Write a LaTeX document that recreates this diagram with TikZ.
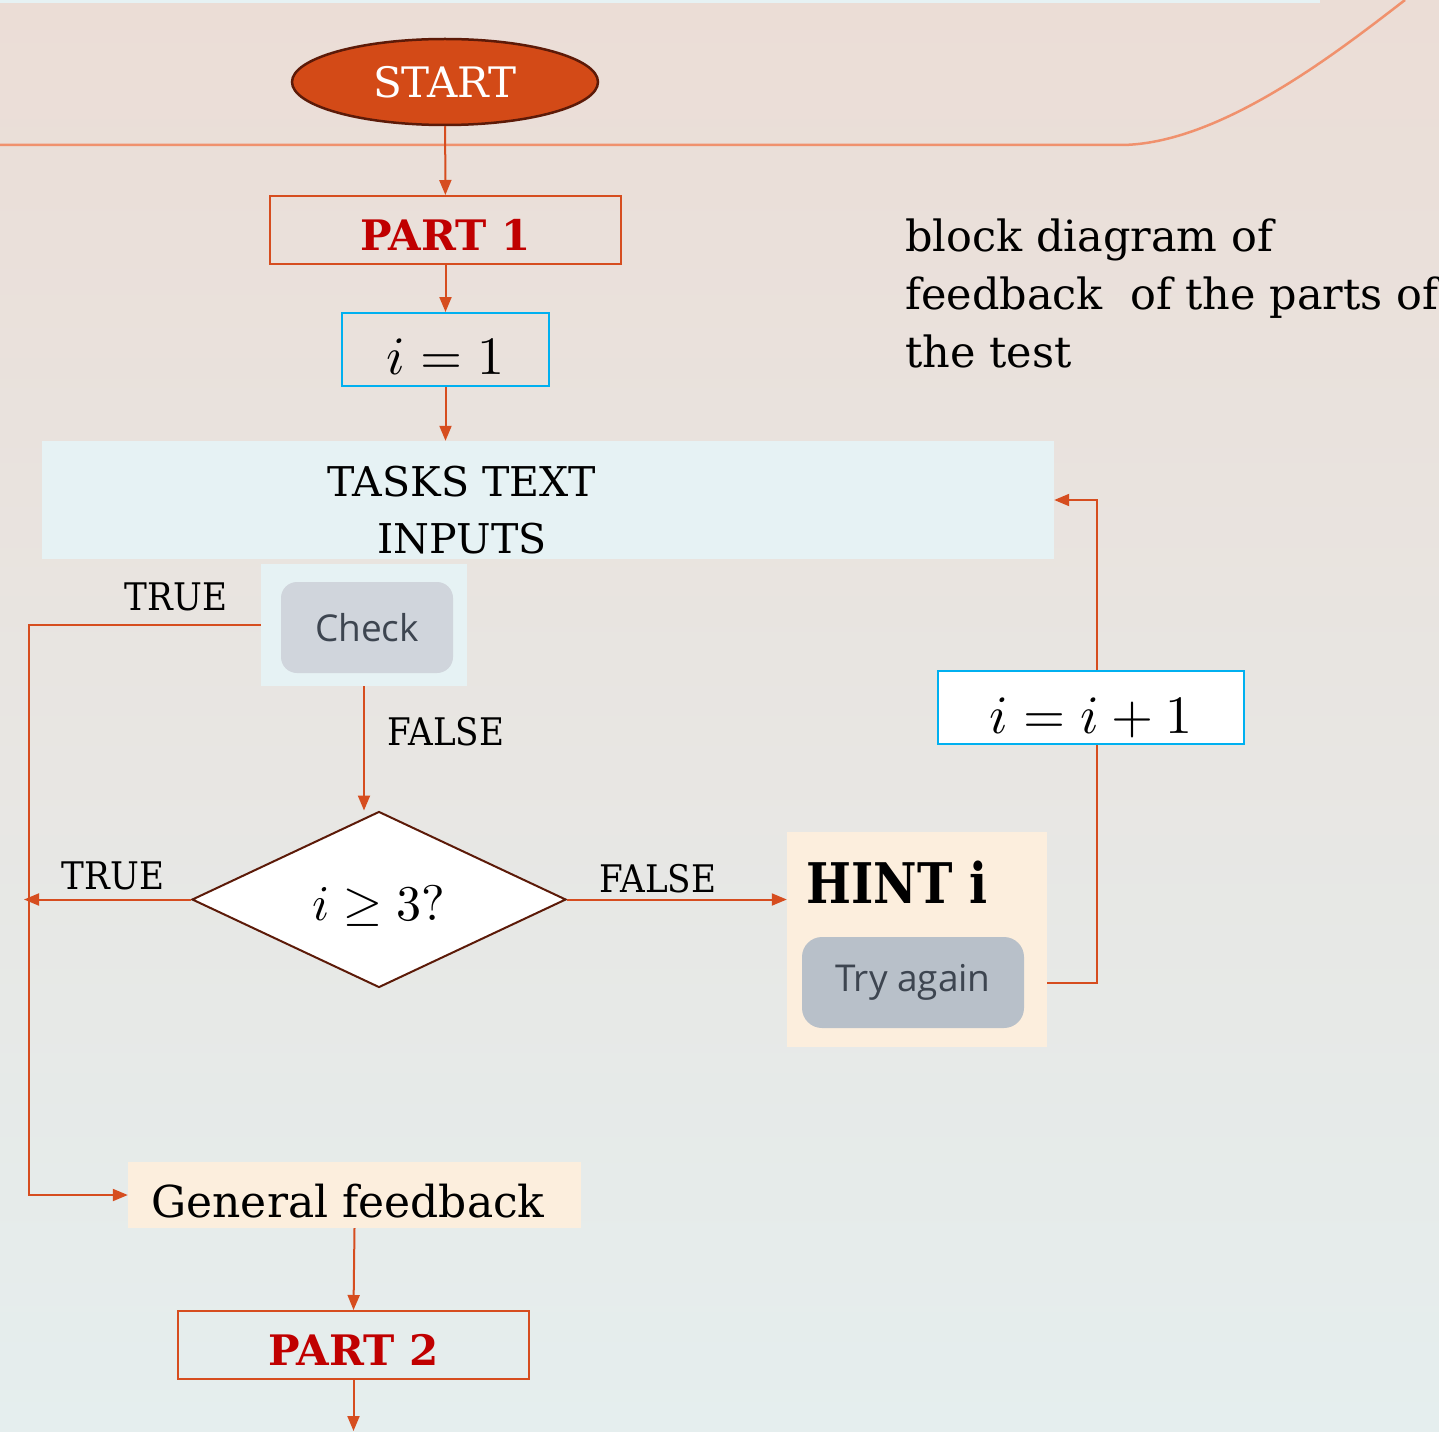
\documentclass[tikz,border=0pt]{standalone}
\usepackage{fontspec}
\usepackage{unicode-math}
\usepackage{tikz}
\usetikzlibrary{shapes.geometric}
\usetikzlibrary{arrows.meta}
\setmainfont{DejaVu Serif}
\setmathfont{Latin Modern Math}
\newfontfamily\slabfam{DejaVu Serif}
\newfontfamily\condfam[FakeStretch=0.9]{DejaVu Serif}
\newfontfamily\hintfam[FakeStretch=0.85]{DejaVu Serif}
\newfontfamily\uifam{Open Sans}
\definecolor{flowred}{RGB}{214,77,31}
\definecolor{partred}{RGB}{192,0,0}
\definecolor{boxcyan}{RGB}{0,176,240}
\definecolor{startfill}{RGB}{211,74,23}
\definecolor{darkbrown}{RGB}{92,26,8}
\definecolor{taskblue}{RGB}{230,242,244}
\definecolor{hintcream}{RGB}{252,238,221}
\definecolor{checkgray}{RGB}{208,213,220}
\definecolor{retrygray}{RGB}{184,192,201}
\definecolor{uitext}{RGB}{61,69,80}
\definecolor{curveorange}{RGB}{240,145,109}
\definecolor{bgtop}{RGB}{235,221,214}
\definecolor{bgbottom}{RGB}{229,238,238}
\tikzstyle{flowline}=[draw=flowred,line width=2pt,-{Triangle[length=15pt,width=12pt]}]
\tikzstyle{plainline}=[draw=flowred,line width=2pt]
\tikzstyle{startnode}=[ellipse,draw=darkbrown,line width=2.5pt,fill=startfill,text=white,
  minimum width=306pt,minimum height=86pt,inner sep=0pt]
\tikzstyle{partbox}=[draw=flowred,line width=2pt,minimum width=351pt,minimum height=68pt,
  inner sep=0pt,text=partred,font=\slabfam\bfseries\fontsize{42}{42}\selectfont,
  text height=41pt,text depth=0pt]
\tikzstyle{varbox}=[draw=boxcyan,line width=2pt,minimum height=73pt,inner sep=0pt,
  text depth=0pt]
\tikzstyle{panel}=[inner sep=0pt]
\tikzstyle{uibutton}=[rounded corners=16pt,inner sep=0pt,text=uitext,
  font=\uifam\fontsize{37}{37}\selectfont]
\tikzstyle{decision}=[diamond,draw=darkbrown,line width=2pt,fill=white,
  minimum width=374pt,minimum height=176pt,inner sep=0pt]
\tikzstyle{branch}=[inner sep=0pt,font=\condfam\fontsize{38}{38}\selectfont]
\newcommand{\sz}[1]{\fontsize{#1}{#1}\selectfont}

\begin{document}
\begin{tikzpicture}[x=1pt,y=-1pt]
  \useasboundingbox (0,0) rectangle (1439,1431);
  % background and title band
  \shade[top color=bgtop,bottom color=bgbottom] (0,0) rectangle (1439,1431);
  \fill[taskblue] (0,0) rectangle (1320,3);
  \draw[curveorange,line width=2.5pt] (0,145) -- (1120,145)
    .. controls (1220,145) and (1340,50) .. (1405,0);

  \node[startnode,font=\slabfam\sz{42}] (start) at (445,82) {START};
  \node[partbox] (part1) at (445.5,230) {PART 1};
  \node[varbox,minimum width=207pt,font=\sz{54},text height=50pt] (init) at (445.5,349.5) {$i = 1$};
  \node[panel,fill=taskblue,minimum width=1012pt,minimum height=118pt] (tasks) at (548,500) {};
  \node[inner sep=0pt,align=center,font=\slabfam\fontsize{41}{57}\selectfont] (taskstext) at (462,510) {TASKS TEXT\\INPUTS};
  \node[panel,fill=taskblue,minimum width=206pt,minimum height=122pt] (checkpanel) at (364,625) {};
  \node[uibutton,fill=checkgray,minimum width=172pt,minimum height=91pt] (check) at (367,627.5) {Check};
  \node[decision,font=\sz{50},text height=41pt,text depth=0pt] (cond) at (379,899.5) {$i \geq 3?$};
  \node[panel,fill=hintcream,minimum width=260pt,minimum height=215pt] (hintpanel) at (917,939.5) {};
  \node[inner sep=0pt,font=\hintfam\bfseries\sz{56}] (hint) at (897,882) {HINT i};
  \node[uibutton,fill=retrygray,rounded corners=20pt,minimum width=222pt,minimum height=91pt] (retry) at (913,982.5) {Try again};
  \node[varbox,fill=white,minimum width=306pt,font=\sz{54},text height=52pt] (incr) at (1091,707.5) {$i = i + 1$};
  \node[panel,fill=hintcream,minimum width=453pt,minimum height=66pt] (general) at (354.5,1195) {};
  \node[inner sep=0pt,font=\slabfam\sz{44}] (generaltext) at (348,1201) {General feedback};
  \node[partbox] (part2) at (353.5,1345) {PART 2};
  \node[inner sep=0pt,anchor=north west,align=left,font=\slabfam\fontsize{43}{58}\selectfont] (note) at (905,219)
    {block diagram of\\feedback\ \ of the parts of\\the test};

  \node[branch] (check true) at (176,597) {TRUE};
  \node[branch] (check false) at (446,732) {FALSE};
  \node[branch] (cond true) at (113,876) {TRUE};
  \node[branch] (cond false) at (658,879) {FALSE};

  \coordinate (rail) at (29,900);
  \coordinate (loop) at (1097,500);
  \coordinate (exit) at (353.5,1431);

  \draw[flowline] (start) -- (part1);
  \draw[flowline] (part1) -- (init);
  \draw[flowline] (init) -- (tasks.north -| init);
  \draw[flowline] (checkpanel.west) -| (rail) |- (general.west);
  \draw[flowline] (checkpanel.south) -- (checkpanel.south |- cond.north);
  \draw[flowline] (cond.west) -- ([xshift=-5pt]rail |- cond.west);
  \draw[flowline] (cond.east) -- (hintpanel.west |- cond.east);
  \draw[plainline] (hintpanel.east |- retry) -| (loop |- incr.south);
  \draw[flowline] (loop |- incr.north) |- (tasks.east);
  \draw[flowline] (general.south) -- (part2.north);
  \draw[flowline] (part2.south) -- (exit);
\end{tikzpicture}
\end{document}
